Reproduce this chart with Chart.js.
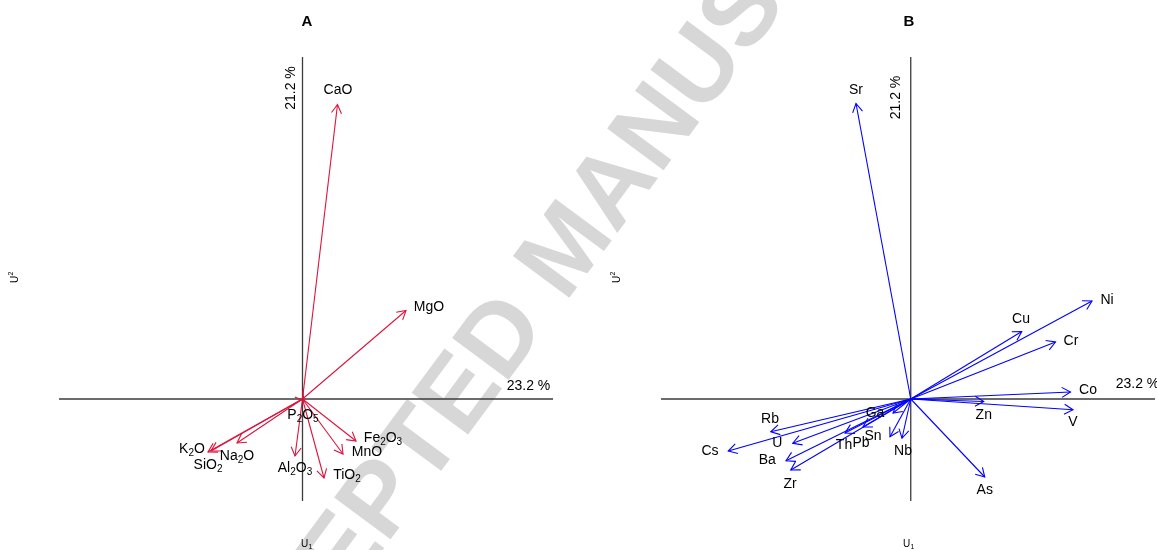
<!DOCTYPE html>
<html>
<head>
<meta charset="utf-8">
<script src="https://cdn.jsdelivr.net/npm/chart.js@4.4.1/dist/chart.umd.min.js"></script>
<style>
  html, body { margin: 0; padding: 0; background: #ffffff; width: 1157px; height: 550px; overflow: hidden; position: relative; }
  canvas { position: absolute; top: 0; }
  #mark {
    position: absolute; left: 564px; top: 246px;
    transform: translate(-50%, -50%) rotate(-53.5deg);
    white-space: nowrap; line-height: 1;
    font-family: "Liberation Sans", Arial, sans-serif; font-size: 102px; font-weight: bold;
    color: #d7d7d7;
  }
</style>
</head>
<body>
<div id="mark">ACCEPTED MANUSCRIPT</div>
<canvas id="panelA" width="602" height="550" style="left:0px"></canvas>
<canvas id="panelB" width="605" height="550" style="left:602px"></canvas>
<script>
// ---- Panel A: major oxides (loadings on U1 / U2) ----
const oxideNames = ['CaO', 'MgO', 'P_2O_5', 'Fe_2O_3', 'MnO', 'TiO_2', 'Al_2O_3', 'K_2O', 'SiO_2', 'Na_2O'];
const oxideU1 = [0.140, 0.414, 0.006, 0.214, 0.162, 0.086, -0.030, -0.378, -0.366, -0.262];
const oxideU2 = [1.178, 0.354, -0.008, -0.168, -0.220, -0.316, -0.228, -0.212, -0.208, -0.176];
const oxideLabelU1 = [0.142, 0.506, 0.002, 0.322, 0.258, 0.178, -0.030, -0.442, -0.378, -0.262];
const oxideLabelU2 = [1.236, 0.368, -0.064, -0.156, -0.212, -0.304, -0.276, -0.200, -0.264, -0.228];

// ---- Panel B: trace elements (loadings on U1 / U2) ----
const traceNames = ['Sr', 'Ni', 'Cu', 'Cr', 'Co', 'V', 'Zn', 'As', 'Nb', 'Sn', 'Ga', 'Pb', 'Th', 'Rb', 'Cs', 'U', 'Ba', 'Zr'];
const traceU1 = [-0.219, 0.725, 0.444, 0.579, 0.639, 0.649, 0.292, 0.296, -0.035, -0.083, -0.071, -0.191, -0.263, -0.560, -0.730, -0.472, -0.499, -0.480];
const traceU2 = [1.182, 0.392, 0.270, 0.228, 0.028, -0.043, -0.010, -0.312, -0.157, -0.151, -0.056, -0.112, -0.136, -0.131, -0.208, -0.177, -0.247, -0.284];
const traceLabelU1 = [-0.219, 0.785, 0.441, 0.641, 0.709, 0.649, 0.292, 0.296, -0.031, -0.151, -0.143, -0.199, -0.267, -0.563, -0.803, -0.534, -0.574, -0.483];
const traceLabelU2 = [1.236, 0.394, 0.320, 0.232, 0.036, -0.094, -0.064, -0.364, -0.207, -0.148, -0.057, -0.177, -0.184, -0.081, -0.207, -0.175, -0.245, -0.340];

// Explained variance shown on each axis
const axisVariance = ['23.2 %', '21.2 %'];
const panelTitles = ['A', 'B'];

const FONT = '"Liberation Sans", Arial, sans-serif';

// Draws a label where "_n" marks a subscript, centred on (x, y)
function drawRich(ctx, text, x, y, size) {
  const parts = [];
  const re = /_(\d+)|([^_]+)/g;
  let m;
  while ((m = re.exec(text)) !== null) {
    if (m[1]) parts.push({ t: m[1], sub: true });
    else parts.push({ t: m[2], sub: false });
  }
  const subSize = Math.round(size * 0.72);
  let total = 0;
  parts.forEach(p => {
    ctx.font = (p.sub ? subSize : size) + 'px ' + FONT;
    p.w = ctx.measureText(p.t).width;
    total += p.w;
  });
  let cx = x - total / 2;
  ctx.textAlign = 'left';
  ctx.textBaseline = 'middle';
  parts.forEach(p => {
    ctx.font = (p.sub ? subSize : size) + 'px ' + FONT;
    ctx.fillText(p.t, cx, p.sub ? y + size * 0.3 : y);
    cx += p.w;
  });
}

function makePanel(canvasId, names, u1, u2, labU1, labU2, colour, xRange, yRange, title, varLabelPos) {
  const datasets = names.map((n, i) => ({
    label: n,
    data: [{ x: 0, y: 0 }, { x: u1[i], y: u2[i] }],
    showLine: true,
    borderColor: colour,
    borderWidth: 1.1,
    pointRadius: 0,
    pointHoverRadius: 0,
    fill: false
  }));

  const biplotDecor = {
    id: 'biplotDecor',
    beforeDatasetsDraw(chart) {
      const { ctx, chartArea: a, scales: { x, y } } = chart;
      const x0 = x.getPixelForValue(0), y0 = y.getPixelForValue(0);
      ctx.save();
      ctx.strokeStyle = '#3c3c3c';
      ctx.lineWidth = 1.3;
      ctx.beginPath();
      ctx.moveTo(a.left, y0); ctx.lineTo(a.right, y0);
      ctx.moveTo(x0, a.top); ctx.lineTo(x0, a.bottom);
      ctx.stroke();
      ctx.restore();
    },
    afterDatasetsDraw(chart) {
      const { ctx, chartArea: a, scales: { x, y } } = chart;
      const ox = x.getPixelForValue(0), oy = y.getPixelForValue(0);
      ctx.save();
      // open arrowheads at each loading tip
      ctx.strokeStyle = colour;
      ctx.lineWidth = 1.1;
      names.forEach((n, i) => {
        const tx = x.getPixelForValue(u1[i]), ty = y.getPixelForValue(u2[i]);
        const ang = Math.atan2(ty - oy, tx - ox);
        const len = 10, spread = Math.PI / 6;
        ctx.beginPath();
        ctx.moveTo(tx - len * Math.cos(ang - spread), ty - len * Math.sin(ang - spread));
        ctx.lineTo(tx, ty);
        ctx.lineTo(tx - len * Math.cos(ang + spread), ty - len * Math.sin(ang + spread));
        ctx.stroke();
      });
      // variable labels
      ctx.fillStyle = '#000000';
      names.forEach((n, i) => {
        drawRich(ctx, n, x.getPixelForValue(labU1[i]), y.getPixelForValue(labU2[i]), 14);
      });
      // explained variance along each axis
      ctx.font = '14px ' + FONT;
      ctx.textAlign = 'center';
      ctx.textBaseline = 'middle';
      ctx.fillText(axisVariance[0], x.getPixelForValue(varLabelPos[0]), y.getPixelForValue(varLabelPos[1]));
      ctx.save();
      ctx.translate(x.getPixelForValue(varLabelPos[2]), y.getPixelForValue(varLabelPos[3]));
      ctx.rotate(-Math.PI / 2);
      ctx.fillText(axisVariance[1], 0, 0);
      ctx.restore();
      // panel title
      const cx = (a.left + a.right) / 2;
      ctx.font = 'bold 15px ' + FONT;
      ctx.fillText(title, cx + 1, 22);
      // axis names
      ctx.font = '10px ' + FONT;
      ctx.textAlign = 'left';
      ctx.fillText('U', cx - 5, 544);
      ctx.font = '7px ' + FONT;
      ctx.fillText('1', cx + 2.5, 547);
      ctx.save();
      ctx.translate(15, (a.top + a.bottom) / 2);
      ctx.rotate(-Math.PI / 2);
      ctx.font = '10px ' + FONT;
      ctx.fillText('U', -4, 0);
      ctx.font = '7px ' + FONT;
      ctx.fillText('2', 3.5, -3.5);
      ctx.restore();
      ctx.restore();
    }
  };

  return new Chart(document.getElementById(canvasId), {
    type: 'scatter',
    data: { datasets },
    options: {
      responsive: false,
      animation: false,
      devicePixelRatio: 1,
      layout: { padding: { left: 59, right: document.getElementById(canvasId).width - 553, top: 57, bottom: 49 } },
      plugins: { legend: { display: false }, tooltip: { enabled: false }, title: { display: false } },
      events: [],
      scales: {
        x: { type: 'linear', display: false, min: xRange[0], max: xRange[1] },
        y: { type: 'linear', display: false, min: yRange[0], max: yRange[1] }
      }
    },
    plugins: [biplotDecor]
  });
}

makePanel('panelA', oxideNames, oxideU1, oxideU2, oxideLabelU1, oxideLabelU2, '#dc143c',
  [-0.974, 1.002], [-0.408, 1.368], panelTitles[0], [0.904, 0.050, -0.046, 1.244]);
makePanel('panelB', traceNames, traceU1, traceU2, traceLabelU1, traceLabelU2, '#0000ff',
  [-0.999, 0.977], [-0.408, 1.368], panelTitles[1], [0.907, 0.060, -0.059, 1.206]);
</script>
</body>
</html>
